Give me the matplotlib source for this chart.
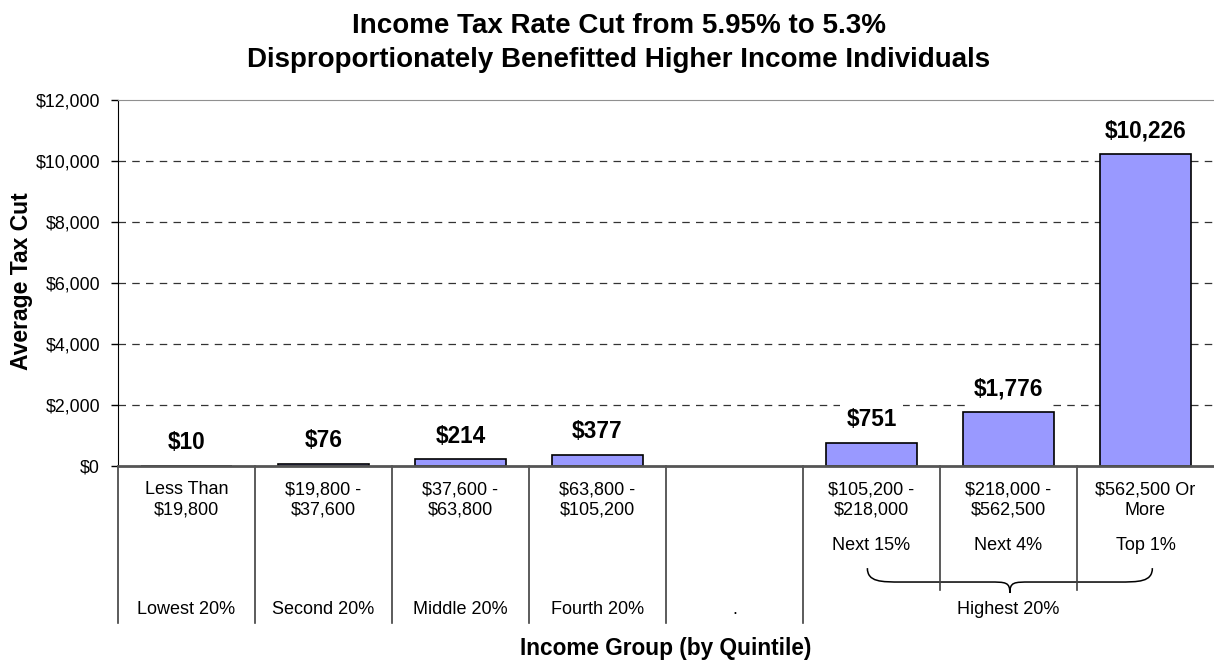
import numpy as np
import matplotlib.pyplot as plt
from matplotlib.path import Path
from matplotlib.patches import PathPatch

plt.rcParams['font.family'] = ['Liberation Sans', 'DejaVu Sans']

# data
ranges = ['Less Than\n$19,800', '$19,800 -\n$37,600', '$37,600 -\n$63,800',
          '$63,800 -\n$105,200', '', '$105,200 -\n$218,000',
          '$218,000 -\n$562,500', '$562,500 Or\nMore']
sub_groups = ['', '', '', '', '', 'Next 15%', 'Next 4%', 'Top 1%']
quintiles = ['Lowest 20%', 'Second 20%', 'Middle 20%', 'Fourth 20%', '.']
tax_cut = [10, 76, 214, 377, np.nan, 751, 1776, 10226]
yticks = [0, 2000, 4000, 6000, 8000, 10000, 12000]

fig = plt.figure(figsize=(12.14, 6.62), dpi=100)
ax = fig.add_axes([118/1214, 196/662, 1096/1214, 366/662])

x = np.arange(len(ranges))
ax.bar(x, tax_cut, width=0.66, color='#9999ff', edgecolor='black',
       linewidth=1.2, zorder=3)

#value labels with white boxes that hide the gridlines
for xi, v in zip(x, tax_cut):
    if np.isnan(v):
        continue
    ax.annotate('${:,.0f}'.format(v), (xi, v), xytext=(0, 12),
                textcoords='offset points', ha='center', va='baseline',
                fontsize=16.3, weight='bold', zorder=4,
                bbox=dict(boxstyle='square,pad=0.3', fc='white', ec='none'))

ax.set_xlim(-0.5, len(ranges) - 0.5)
ax.set_ylim(0, 12000)
ax.set_yticks(yticks)
ax.set_yticklabels(['${:,}'.format(t) for t in yticks], fontsize=12.8)
ax.tick_params(axis='y', length=5, width=1, pad=8, direction='out')
ax.set_xticks([])
for t in yticks[1:-1]:
    ax.axhline(t, color='#333333', linestyle=(0, (6, 5)), linewidth=0.9,
               zorder=1)

ax.spines['right'].set_visible(False)
ax.spines['top'].set_color('#909090')
ax.spines['bottom'].set_color('#555555')
ax.spines['bottom'].set_linewidth(2)
ax.spines['bottom'].set_zorder(5)
ax.spines['left'].set_color('black')

#the category table below the axis
tr = ax.get_xaxis_transform()
for b in np.arange(-0.5, len(ranges) - 0.5):
    bottom = -0.339 if b in (5.5, 6.5) else -0.429
    ax.plot([b, b], [0, bottom], transform=tr, color='#404040',
            linewidth=1.2, clip_on=False)

for xi, lab in zip(x, ranges):
    ax.text(xi, -0.093, lab, transform=tr, ha='center', va='center',
            fontsize=13, linespacing=1.3)
for xi, lab in zip(x, sub_groups):
    ax.text(xi, -0.216, lab, transform=tr, ha='center', va='center',
            fontsize=13)
for xi, lab in zip(x, quintiles):
    ax.text(xi, -0.393, lab, transform=tr, ha='center', va='center',
            fontsize=13)
ax.text(6, -0.393, 'Highest 20%', transform=tr, ha='center', va='center',
        fontsize=13)

#curly brace grouping the top three groups
l, r, m = 4.97, 7.05, 6.01
top, mid, tip = -0.279, -0.317, -0.347
verts = [(l, top), (l, mid), (l + 0.1, mid), (l + 0.25, mid),
         (m - 0.15, mid),
         (m - 0.03, mid), (m, mid), (m, tip),
         (m, mid), (m + 0.03, mid), (m + 0.15, mid),
         (r - 0.25, mid),
         (r - 0.1, mid), (r, mid), (r, top)]
codes = [Path.MOVETO, Path.CURVE4, Path.CURVE4, Path.CURVE4,
         Path.LINETO,
         Path.CURVE4, Path.CURVE4, Path.CURVE4,
         Path.CURVE4, Path.CURVE4, Path.CURVE4,
         Path.LINETO,
         Path.CURVE4, Path.CURVE4, Path.CURVE4]
ax.add_patch(PathPatch(Path(verts, codes), fc='none', ec='black',
                       linewidth=1.1, transform=tr, clip_on=False))

fig.text(619/1214, (662 - 33)/662, 'Income Tax Rate Cut from 5.95% to 5.3%',
         ha='center', va='baseline', fontsize=20, weight='bold')
fig.text(619/1214, (662 - 67)/662,
         'Disproportionately Benefitted Higher Income Individuals',
         ha='center', va='baseline', fontsize=20, weight='bold')
fig.text((118 + 1214)/2/1214, 14/662, 'Income Group (by Quintile)',
         ha='center', va='center', fontsize=16.3, weight='bold')
fig.text(22/1214, (662 - 281)/662, 'Average Tax Cut', rotation=90,
         ha='center', va='center', fontsize=16.5, weight='bold')

fig.savefig('out.png', dpi=100)
